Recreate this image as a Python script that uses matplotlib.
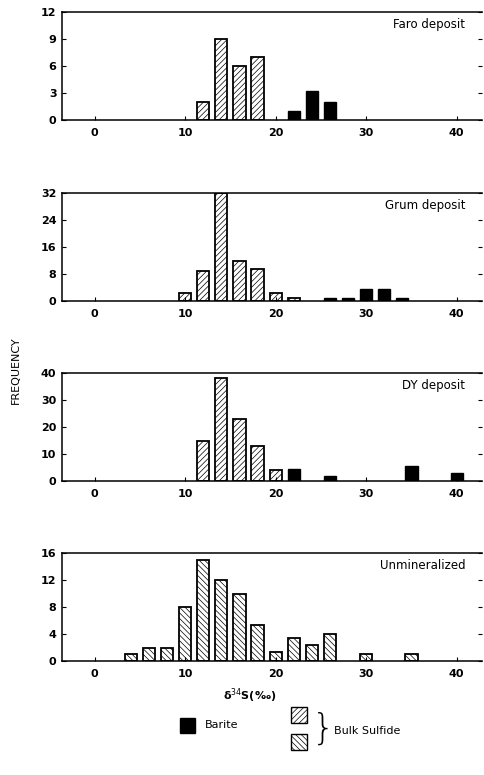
import matplotlib
matplotlib.use("Agg")
import matplotlib.pyplot as plt
from matplotlib.patches import Rectangle

plt.rcParams['font.family'] = ['DejaVu Sans']
plt.rcParams['hatch.linewidth'] = 0.5

# data: bin centres (per mil) and frequencies
faro_sulf_x = [12, 14, 16, 18]
faro_sulf_y = [2, 9, 6, 7]
faro_bar_x = [22, 24, 26]
faro_bar_y = [1, 3.2, 2]

grum_sulf_x = [10, 12, 14, 16, 18, 20, 22]
grum_sulf_y = [2.5, 9, 32, 12, 9.5, 2.5, 1]
grum_bar_x = [26, 28, 30, 32, 34]
grum_bar_y = [1, 1, 3.5, 3.5, 1]

dy_sulf_x = [12, 14, 16, 18, 20]
dy_sulf_y = [15, 38, 23, 13, 4]
dy_bar_x = [22, 26, 35, 40]
dy_bar_y = [4.5, 2, 5.5, 3]

unmin_x = [4, 6, 8, 10, 12, 14, 16, 18, 20, 22, 24, 26, 30, 35]
unmin_y = [1, 2, 2, 8, 15, 12, 10, 5.3, 1.3, 3.4, 2.3, 4, 1, 1]

panels = [
    ("Faro deposit", [0, 3, 6, 9, 12], faro_sulf_x, faro_sulf_y, "//////", faro_bar_x, faro_bar_y),
    ("Grum deposit", [0, 8, 16, 24, 32], grum_sulf_x, grum_sulf_y, "//////", grum_bar_x, grum_bar_y),
    ("DY deposit", [0, 10, 20, 30, 40], dy_sulf_x, dy_sulf_y, "//////", dy_bar_x, dy_bar_y),
    ("Unmineralized", [0, 4, 8, 12, 16], unmin_x, unmin_y, "\\\\\\\\\\\\", [], []),
]
xticks = [0, 10, 20, 30, 40]

fig = plt.figure(figsize=(4.84, 7.75), dpi=100)
bottoms = [655 / 775, 474 / 775, 294 / 775, 114 / 775]
height = 108 / 775

for (title, yt, sx, sy, hatch, bx, by), b in zip(panels, bottoms):
    ax = fig.add_axes([62 / 484, b, 420 / 484, height])
    ax.bar(sx, sy, width=1.35, color="white", edgecolor="black", hatch=hatch, linewidth=1.3)
    if bx:
        ax.bar(bx, by, width=1.35, color="black", edgecolor="black", linewidth=1.0)
    ax.set_xlim(-3.6, 42.8)
    ax.set_ylim(0, yt[-1])
    ax.set_yticks(yt)
    ax.set_xticks(xticks)
    ax.tick_params(direction="in", length=3, width=0.8, labelsize=8, pad=6)
    ax.tick_params(axis="y", right=True, pad=4)
    for lbl in ax.get_xticklabels() + ax.get_yticklabels():
        lbl.set_fontweight("bold")
    for sp in ax.spines.values():
        sp.set_linewidth(1.1)
    ax.spines["right"].set_visible(False)
    ax.text(0.96, 0.88, title, transform=ax.transAxes, ha="right", va="center", fontsize=8.5)

fig.text(16 / 484, 1 - 370 / 775, "FREQUENCY", rotation=90, ha="center", va="center", fontsize=8)
fig.text(250 / 484, 1 - 696 / 775, r"$\mathbf{\delta}^{34}$S(‰)", ha="center", va="center",
         fontsize=8, fontweight="bold")


# legend swatches drawn in figure coordinates
def fpatch(x, y, w, h, **kw):
    fig.patches.append(Rectangle((x / 484, 1 - (y + h) / 775), w / 484, h / 775,
                                 transform=fig.transFigure, **kw))


fpatch(180, 718, 15, 15, facecolor="black", edgecolor="black")
fig.text(205 / 484, 1 - 725 / 775, "Barite", ha="left", va="center", fontsize=8)
fpatch(291, 707, 16, 16, facecolor="white", edgecolor="black", hatch="//////", linewidth=1)
fpatch(291, 734, 16, 16, facecolor="white", edgecolor="black", hatch="\\\\\\\\\\\\", linewidth=1)
fig.text(312 / 484, 1 - 729 / 775, "}", ha="left", va="center", fontsize=26, fontweight="light")
fig.text(334 / 484, 1 - 731 / 775, "Bulk Sulfide", ha="left", va="center", fontsize=8)

fig.savefig("out.png", dpi=100)
